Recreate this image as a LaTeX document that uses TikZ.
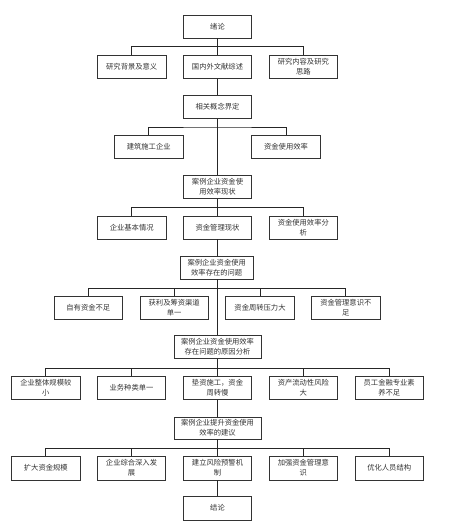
\documentclass[tikz,border=0pt]{standalone}
\usepackage{fontspec}
\newfontfamily\cjk{Noto Sans CJK SC}
\begin{document}
\begin{tikzpicture}[x=1pt,y=1pt,
  box/.style={draw=black!80, line width=0.9pt, fill=white, inner sep=0pt,
    minimum width=68.5pt, minimum height=23pt, align=center,
    font=\cjk\fontsize{7.3}{10}\selectfont, text=black!80},
  wbox/.style={box, minimum width=87pt},
  link/.style={draw=black!85, line width=0.9pt}]
\useasboundingbox (0,0) rectangle (448,-528);
% nodes
\node[box] (xl) at (217.5,-26.5) {绪论};
\node[box] (a1) at (131.7,-66.7) {研究背景及意义};
\node[box] (a2) at (217.5,-66.7) {国内外文献综述};
\node[box] (a3) at (303.3,-66.7) {研究内容及研究\\思路};
\node[box] (gn) at (217.5,-107) {相关概念界定};
\node[box] (b1) at (148.7,-146.7) {建筑施工企业};
\node[box] (b2) at (286,-146.7) {资金使用效率};
\node[box] (xz) at (217.5,-187) {案例企业资金使\\用效率现状};
\node[box] (c1) at (131.7,-227.5) {企业基本情况};
\node[box] (c2) at (217.5,-227.5) {资金管理现状};
\node[box] (c3) at (303.3,-227.5) {资金使用效率分\\析};
\node[box, minimum width=73pt] (wt) at (216.7,-267.5) {案例企业资金使用\\效率存在的问题};
\node[box] (d1) at (88.3,-308) {自有资金不足};
\node[box] (d2) at (174.2,-308) {获利及筹资渠道\\单一};
\node[box] (d3) at (260,-308) {资金周转压力大};
\node[box] (d4) at (345.8,-308) {资金管理意识不\\足};
\node[wbox] (yy) at (217.5,-347) {案例企业资金使用效率\\存在问题的原因分析};
\node[box] (e1) at (45.8,-387.8) {企业整体规模较\\小};
\node[box] (e2) at (131.5,-387.8) {业务种类单一};
\node[box] (e3) at (217.5,-387.8) {垫资施工，资金\\周转慢};
\node[box] (e4) at (303.3,-387.8) {资产流动性风险\\大};
\node[box] (e5) at (389.2,-387.8) {员工金融专业素\\养不足};
\node[wbox, minimum height=22pt] (jy) at (217.5,-428) {案例企业提升资金使用\\效率的建议};
\node[box, minimum height=24pt] (f1) at (45.8,-468) {扩大资金规模};
\node[box, minimum height=24pt] (f2) at (131.5,-468) {企业综合深入发\\展};
\node[box, minimum height=24pt] (f3) at (217.5,-468) {建立风险预警机\\制};
\node[box, minimum height=24pt] (f4) at (303.3,-468) {加强资金管理意\\识};
\node[box, minimum height=24pt] (f5) at (389.2,-468) {优化人员结构};
\node[box, minimum height=24pt] (jl) at (217.5,-508) {结论};
% bus coordinates
\coordinate (busA) at (217.5,-46.7);
\coordinate (busB) at (217.5,-127);
\coordinate (busC) at (217.5,-207.5);
\coordinate (busD) at (217.5,-288.3);
\coordinate (busE) at (217.5,-368.5);
\coordinate (busF) at (217.5,-448.3);
% connectors
\path[link] (xl.south) -- (a2.north);
\path[link] (a1.north) |- (busA) -| (a3.north);
\path[link] (a2.south) -- (gn.north);
\path[link] (gn.south) -- (xz.north);
\path[link] (b1.north) |- (busB) -| (b2.north);
\path[link] (xz.south) -- (c2.north);
\path[link] (c1.north) |- (busC) -| (c3.north);
\path[link] (c2.south) -- (wt.north -| c2.south);
\path[link] (wt.south -| busD) -- (yy.north);
\path[link] (d1.north) |- (busD) -| (d4.north);
\path[link] (d2.north) -- (d2.north |- busD);
\path[link] (d3.north) -- (d3.north |- busD);
\path[link] (yy.south) -- (e3.north);
\path[link] (e1.north) |- (busE) -| (e5.north);
\path[link] (e2.north) -- (e2.north |- busE);
\path[link] (e4.north) -- (e4.north |- busE);
\path[link] (e3.south) -- (jy.north);
\path[link] (jy.south) -- (f3.north);
\path[link] (f1.north) |- (busF) -| (f5.north);
\path[link] (f2.north) -- (f2.north |- busF);
\path[link] (f4.north) -- (f4.north |- busF);
\path[link] (f3.south) -- (jl.north);
\end{tikzpicture}
\end{document}
